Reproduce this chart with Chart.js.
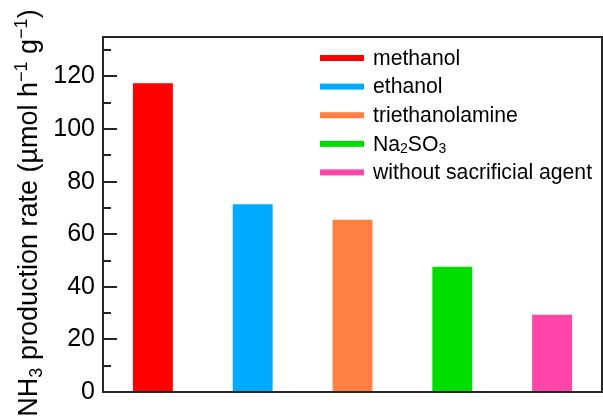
<!DOCTYPE html>
<html>
<head>
<meta charset="utf-8">
<script src="https://cdn.jsdelivr.net/npm/chart.js@4/dist/chart.umd.min.js"></script>
<style>
  html, body { margin: 0; padding: 0; background: #fff; }
  #wrap { width: 603px; height: 416px; }
</style>
</head>
<body>
<div id="wrap"><canvas id="c" width="603" height="416"></canvas></div>
<script>
// ---- data ----
const categories = ['methanol', 'ethanol', 'triethanolamine', 'Na2SO3', 'without sacrificial agent'];
const rates = [117.4, 71.4, 65.5, 47.6, 29.4];
const barColors = ['#ff0000', '#00aaff', '#ff8040', '#00dd00', '#ff44aa'];
const yMin = 0, yMax = 135, yMajorStep = 20, yMinorStep = 10;

// legend label pieces: [text, mode] mode 0 normal, -1 subscript, 1 superscript
const legendLabels = [
  [['methanol', 0]],
  [['ethanol', 0]],
  [['triethanolamine', 0]],
  [['Na', 0], ['2', -1], ['SO', 0], ['3', -1]],
  [['without sacrificial agent', 0]]
];
const yTitle = [['NH', 0], ['3', -1], [' production rate (\u00b5mol h', 0], ['\u22121', 1], [' g', 0], ['\u22121', 1], [')', 0]];

const FONT = '"Liberation Sans", Arial, Helvetica, sans-serif';
const AXIS_COLOR = '#262626';

function drawRich(ctx, pieces, x, y, size) {
  let cx = x;
  pieces.forEach(([t, m]) => {
    const fs = m === 0 ? size : Math.round(size * 0.65);
    ctx.font = fs + 'px ' + FONT;
    let dy = 0;
    if (m === -1) dy = size * 0.2;
    if (m === 1) dy = -size * 0.38;
    ctx.fillText(t, cx, y + dy);
    cx += ctx.measureText(t).width;
  });
  return cx - x;
}
function measureRich(ctx, pieces, size) {
  let total = 0;
  pieces.forEach(([t, m]) => {
    ctx.font = (m === 0 ? size : Math.round(size * 0.65)) + 'px ' + FONT;
    total += ctx.measureText(t).width;
  });
  return total;
}

const decorPlugin = {
  id: 'decor',
  afterDatasetsDraw(chart) {
    const ctx = chart.ctx;
    const a = chart.chartArea;
    const ys = chart.scales.y;
    ctx.save();
    // frame
    ctx.strokeStyle = AXIS_COLOR;
    ctx.lineWidth = 2;
    ctx.strokeRect(a.left, a.top, a.right - a.left, a.bottom - a.top);
    // inward ticks on left axis
    for (let v = yMin; v <= yMax; v += yMinorStep) {
      const py = Math.round(ys.getPixelForValue(v));
      const len = (v % yMajorStep === 0) ? 14 : 8;
      ctx.beginPath();
      ctx.moveTo(a.left, py);
      ctx.lineTo(a.left + len, py);
      ctx.stroke();
    }
    // legend
    const lx0 = 320, lx1 = 364, tx = 373, ly0 = 58, dyRow = 28.6;
    ctx.textBaseline = 'middle';
    ctx.textAlign = 'left';
    legendLabels.forEach((pieces, i) => {
      const y = ly0 + i * dyRow;
      ctx.fillStyle = barColors[i];
      ctx.fillRect(lx0, y - 3, lx1 - lx0, 6);
      ctx.fillStyle = '#000';
      drawRich(ctx, pieces, tx, y + 1, 21.2);
    });
    // y-axis title
    ctx.textBaseline = 'alphabetic';
    const size = 27;
    const w = measureRich(ctx, yTitle, size);
    ctx.translate(37, 213);
    ctx.rotate(-Math.PI / 2);
    ctx.fillStyle = '#000';
    drawRich(ctx, yTitle, -w / 2, 0, size);
    ctx.restore();
  }
};

new Chart(document.getElementById('c'), {
  type: 'bar',
  data: {
    labels: categories,
    datasets: [{
      data: rates,
      backgroundColor: barColors,
      borderWidth: 0,
      barPercentage: 0.4,
      categoryPercentage: 1.0
    }]
  },
  options: {
    responsive: false,
    animation: false,
    devicePixelRatio: 1,
    layout: { padding: { top: 37, right: 1, left: 0, bottom: 0 } },
    plugins: { legend: { display: false }, tooltip: { enabled: false }, title: { display: false } },
    scales: {
      x: {
        ticks: { display: false },
        grid: { display: false, drawTicks: false },
        border: { display: false },
        afterFit(scale) { scale.height = 24; }
      },
      y: {
        min: yMin,
        max: yMax,
        ticks: {
          stepSize: yMajorStep,
          includeBounds: false,
          padding: 8,
          color: '#000',
          font: { family: FONT, size: 25 },
          callback: (v) => (v % yMajorStep === 0 ? String(v) : '')
        },
        grid: { display: false, drawTicks: false },
        border: { display: false },
        afterFit(scale) { scale.width = 103; }
      }
    }
  },
  plugins: [decorPlugin]
});
</script>
</body>
</html>
